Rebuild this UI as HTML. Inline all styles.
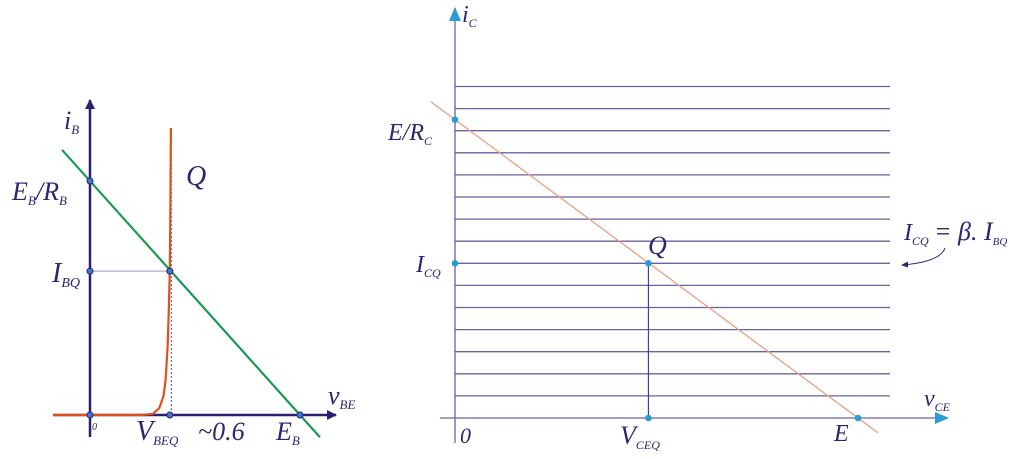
<!DOCTYPE html>
<html><head><meta charset="utf-8"><style>
html,body{margin:0;padding:0;background:#fff;width:1022px;height:459px;overflow:hidden}
svg text{font-family:"Liberation Serif",serif;font-style:italic;fill:#2e2470}
</style></head><body>
<svg id="c" width="1022" height="459" viewBox="0 0 1022 459">
<defs>
<marker id="ap" markerWidth="10" markerHeight="10" refX="9" refY="5" orient="auto" markerUnits="userSpaceOnUse"><path d="M0,0 L10,5 L0,10 z" fill="#2e2070"/></marker>
<marker id="ab" markerWidth="14" markerHeight="12" refX="13" refY="6" orient="auto" markerUnits="userSpaceOnUse"><path d="M0,0 L14,6 L0,12 z" fill="#2a9ad8"/></marker>
<marker id="as" markerWidth="7" markerHeight="6" refX="6" refY="3" orient="auto" markerUnits="userSpaceOnUse"><path d="M0,0 L7,3 L0,6 z" fill="#2e2470"/></marker>
</defs>
<g id="left"></g>
<g id="right"></g>
</svg>
<script>
// ---- Left chart data (normalized units) ----
const leftLoadLine = [1.0, 0.0];
const leftEB = [1.0];
const leftVBEQ = [0.38];
const leftIBQ = [0.615];
const diodeV = [0.0, 0.25, 0.30, 0.33, 0.35, 0.36, 0.37, 0.375, 0.38, 0.383, 0.385];
const diodeI = [0.0, 0.0, 0.005, 0.03, 0.08, 0.15, 0.30, 0.45, 0.615, 0.90, 1.23];
// ---- Right chart data ----
const gridIC = [1,2,3,4,5,6,7,8,9,10,11,12,13,14,15];
const rightEoverRC = [13.5];
const rightICQ = [7];
const rightE = [1.0];
const rightVCEQ = [0.48];

const NS='http://www.w3.org/2000/svg';
function el(p,t,a){const e=document.createElementNS(NS,t);for(const k in a)e.setAttribute(k,a[k]);p.appendChild(e);return e;}
function txt(p,x,y,s,size,sub,subsize){const t=el(p,'text',{x:x,y:y,'font-size':size});t.appendChild(document.createTextNode(s));if(sub){const ts=el(t,'tspan',{dy:5,'font-size':subsize||size*0.5});ts.textContent=sub;}return t;}

const L=document.getElementById('left');
const lx=v=>90+v*210, ly=i=>415-i*234;
let e;
e=el(L,'line',{x1:90,y1:437,x2:90,y2:100,stroke:'#2e2070','stroke-width':2.5,'marker-end':'url(#ap)'});

e=el(L,'line',{x1:53,y1:415,x2:336,y2:415,stroke:'#2e2070','stroke-width':2.5,'marker-end':'url(#ap)'});

const qx=lx(leftVBEQ[0]), qy=ly(leftIBQ[0]);
e=el(L,'line',{x1:90,y1:qy,x2:qx,y2:qy,stroke:'#b0a8d0','stroke-width':1.2});

e=el(L,'line',{x1:qx+1.5,y1:128,x2:qx+1.5,y2:415,stroke:'#5a5090','stroke-width':1,'stroke-dasharray':'2,2'});

let d='M53,415 ';
for(let k=0;k<diodeV.length;k++){d+='L'+lx(diodeV[k]).toFixed(1)+','+Math.max(128,ly(diodeI[k])).toFixed(1)+' ';}
e=el(L,'path',{d:d,fill:'none',stroke:'#e0501a','stroke-width':2.2,'stroke-linejoin':'round'});

const y0=ly(leftLoadLine[0]), x1=lx(leftEB[0]);
const sl=(415-y0)/(x1-90);
e=el(L,'line',{x1:62,y1:y0-sl*28,x2:320,y2:y0+sl*230,stroke:'#1a9a50','stroke-width':2.2});

[[90,y0,'point-eb-rb'],[90,qy,'point-ibq'],[qx,qy,'point-q-left'],[90,415,'point-origin-left'],[qx,415,'point-vbeq'],[x1,415,'point-eb']].forEach(p=>{
 e=el(L,'circle',{cx:p[0],cy:p[1],r:3,fill:'#3a7ad0',stroke:'#2e2070','stroke-width':1});
 
});
e=txt(L,64,129,'i',26,'B',13);
e=el(L,'text',{x:12,y:200,'font-size':26});
e.innerHTML='E<tspan dy="5" font-size="13">B</tspan><tspan dy="-5">/R</tspan><tspan dy="5" font-size="13">B</tspan>';
e=txt(L,52,282,'I',28,'BQ',14);
e=txt(L,186,185,'Q',28);
e=txt(L,92,430,'0',10);
e=txt(L,136,440,'V',28,'BEQ',13);
e=txt(L,198,440,'~0.6',26);
e=txt(L,276,440,'E',26,'B',13);
e=txt(L,328,404,'v',26,'BE',13);

const R=document.getElementById('right');
const rx=v=>455+v*403, ry=i=>418-i*22.1;
gridIC.forEach(g=>{
 e=el(R,'line',{x1:455,y1:ry(g),x2:890,y2:ry(g),stroke:'#6a62a0','stroke-width':1.3});
 
});
e=el(R,'line',{x1:455,y1:443,x2:455,y2:8,stroke:'#6a62a0','stroke-width':1.3,'marker-end':'url(#ab)'});

e=el(R,'line',{x1:440,y1:418,x2:948,y2:418,stroke:'#6a62a0','stroke-width':1.3,'marker-end':'url(#ab)'});

const ry0=ry(rightEoverRC[0]), rxE=rx(rightE[0]);
const rs=(418-ry0)/(rxE-455);
e=el(R,'line',{x1:431,y1:ry0-rs*24,x2:878,y2:418+rs*(878-rxE),stroke:'#e8a080','stroke-width':1.3});

const rqx=rx(rightVCEQ[0]), rqy=ry(rightICQ[0]);
e=el(R,'line',{x1:rqx,y1:rqy,x2:rqx,y2:418,stroke:'#4a3a90','stroke-width':1.2});

[[455,ry0,'point-e-rc'],[455,rqy,'point-icq'],[rqx,rqy,'point-q-right'],[rqx,418,'point-vceq'],[rxE,418,'point-e']].forEach(p=>{
 e=el(R,'circle',{cx:p[0],cy:p[1],r:3.3,fill:'#2a9ad8'});
 
});
e=txt(R,462,22,'i',24,'C',12);
e=txt(R,388,140,'E/R',24,'C',12);
e=txt(R,416,272,'I',24,'CQ',12);
e=txt(R,648,254,'Q',26);
e=txt(R,460,443,'0',22);
e=txt(R,620,444,'V',26,'CEQ',12);
e=txt(R,834,441,'E',24);
e=txt(R,924,406,'v',24,'CE',12);
e=txt(R,904,240,'I',24,'CQ',12);
e=txt(R,934,240,'= β. I',26,'BQ',11);
e=el(R,'path',{d:'M945,248 Q940,262 902,265',fill:'none',stroke:'#2e2470','stroke-width':1,'marker-end':'url(#as)'});

</script>
</body></html>
